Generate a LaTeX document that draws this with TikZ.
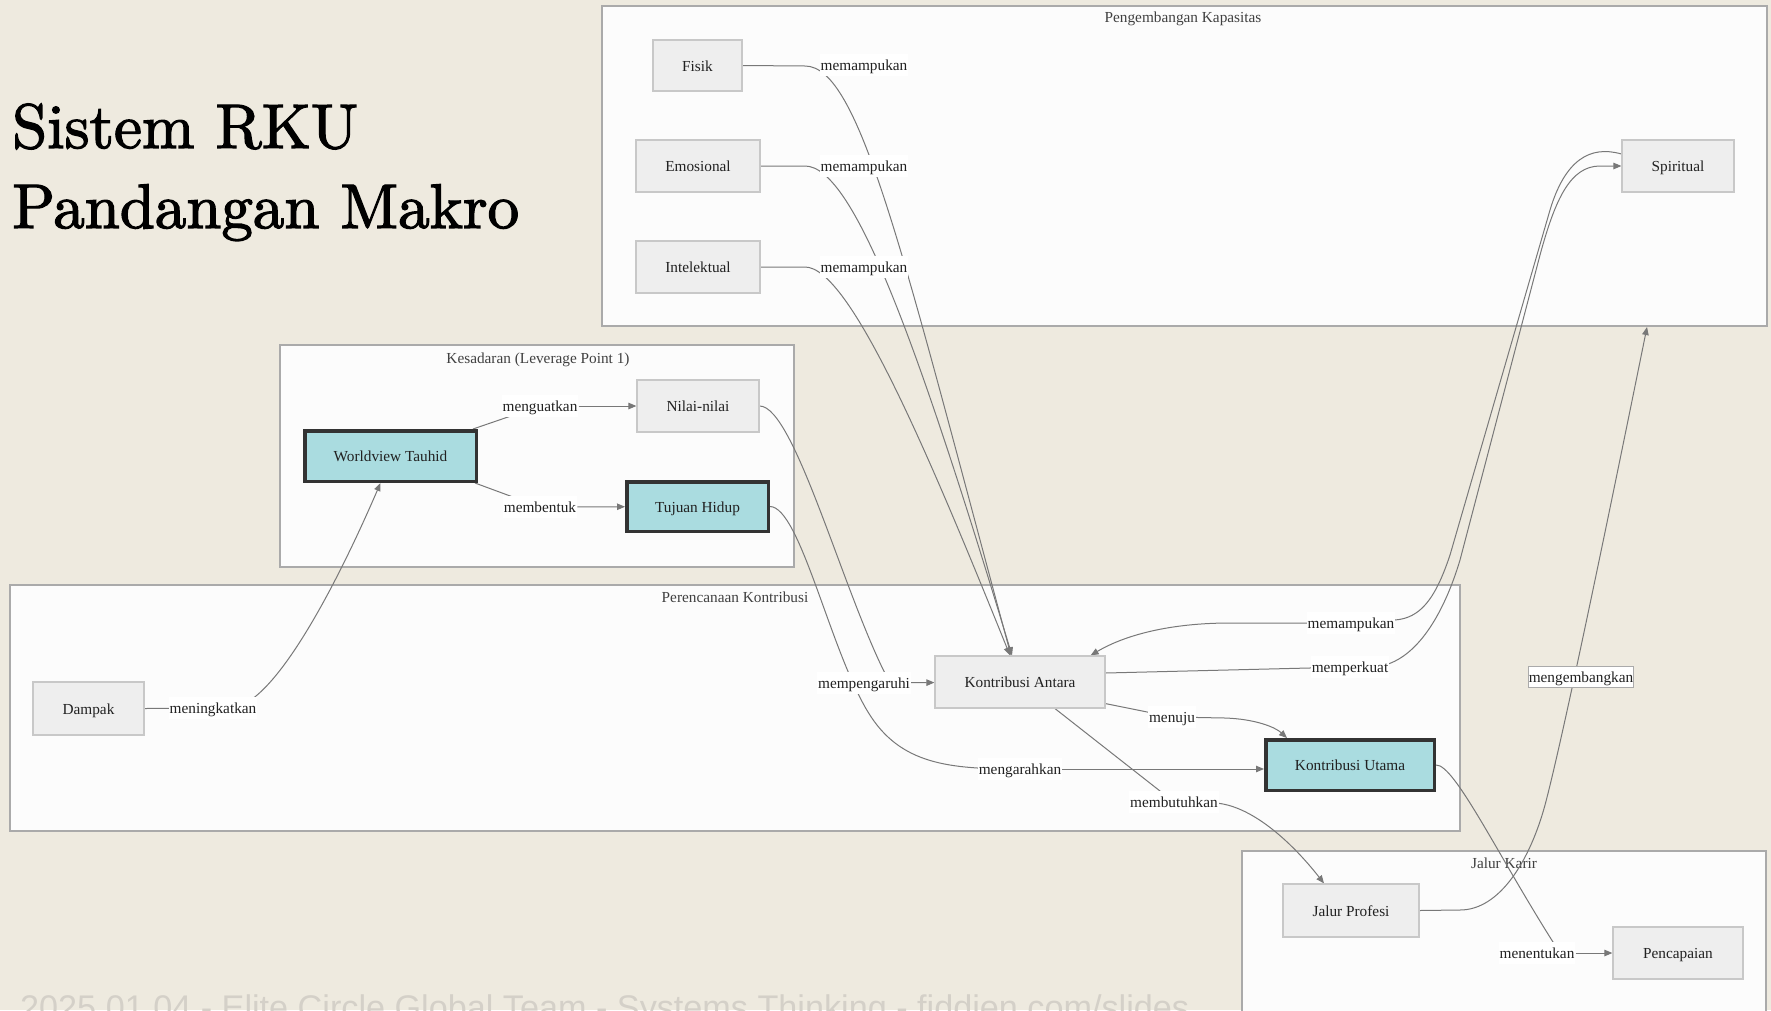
\documentclass[tikz,border=0pt]{standalone}
\usepackage{fontspec}
\newfontfamily\dfont{Liberation Serif}
\newfontfamily\footfont{Liberation Sans}
\newfontfamily\titlefont[FakeBold=2]{lmroman10-regular.otf}
\usetikzlibrary{arrows.meta}
\definecolor{pagebg}{RGB}{238,234,223}
\definecolor{clfill}{RGB}{252,252,252}
\definecolor{clline}{RGB}{170,170,170}
\definecolor{nfill}{RGB}{238,238,238}
\definecolor{nline}{RGB}{200,200,200}
\definecolor{hfill}{RGB}{170,220,224}
\definecolor{hline}{RGB}{51,51,51}
\definecolor{eline}{RGB}{120,120,120}
\definecolor{footc}{RGB}{212,208,200}

\pgfdeclarelayer{page}
\pgfdeclarelayer{clusters}
\pgfdeclarelayer{edges}
\pgfsetlayers{page,clusters,edges,main}

\begin{document}
\begin{tikzpicture}[x=1pt,y=-1pt,
  txt/.style={font=\dfont\fontsize{15.3}{18}\selectfont, text=black!87, text height=13.5pt, text depth=1.8pt},
  plain/.style={txt, draw=nline, line width=1.2pt, fill=nfill, inner sep=0pt},
  key/.style={txt, draw=hline, line width=3.5pt, fill=hfill, inner sep=0pt},
  elabel/.style={txt, fill=white, inner xsep=1pt, inner ysep=3pt},
  cluster/.style={draw=clline, line width=1.5pt, fill=clfill, inner sep=0pt},
  ctitle/.style={txt, text=black!75, inner sep=0pt},
  conn/.style={draw=eline, line width=1pt},
  arr/.style={conn, -{Triangle[length=8pt,width=6.5pt]}},
  heading/.style={anchor=base west, inner sep=0pt, font=\titlefont\fontsize{63}{63}\selectfont},
]
\useasboundingbox (0,0) rectangle (1771,1010);
\begin{pgfonlayer}{page}
\fill[pagebg] (0,0) rectangle (1771,1010);
\end{pgfonlayer}

% title
\node[heading] (title1) at (12,148) {Sistem RKU};
\node[heading] (title2) at (12,228) {Pandangan Makro};

% footer
\node[anchor=base west, inner sep=0pt, text=footc, font=\footfont\fontsize{34.2}{34.2}\selectfont] (footer) at (20,1019) {2025.01.04 - Elite Circle Global Team - Systems Thinking - fiddien.com/slides};

% groups
\begin{pgfonlayer}{clusters}
\node[cluster, minimum width=1165pt, minimum height=320pt] (cpk) at (1184.5,166) {};
\node[ctitle] at (1183,17) {Pengembangan Kapasitas};
\node[cluster, minimum width=514pt, minimum height=222pt] (cks) at (537,456) {};
\node[ctitle] at (538,358) {Kesadaran (Leverage Point 1)};
\node[cluster, minimum width=1450pt, minimum height=246pt] (cpr) at (735,708) {};
\node[ctitle] at (735,597) {Perencanaan Kontribusi};
\node[cluster, minimum width=524pt, minimum height=189pt] (cjk) at (1504,945.5) {};
\node[ctitle] at (1504,863) {Jalur Karir};
\end{pgfonlayer}
\coordinate (pkin) at (1647,327);

% nodes
\node[plain, minimum width=89pt, minimum height=51pt] (fisik) at (697.5,65.5) {Fisik};
\node[plain, minimum width=124pt, minimum height=52pt] (emo) at (698,166) {Emosional};
\node[plain, minimum width=124pt, minimum height=52pt] (intel) at (698,267) {Intelektual};
\node[plain, minimum width=112pt, minimum height=52pt] (spirit) at (1678,166) {Spiritual};
\node[plain, minimum width=122pt, minimum height=52pt] (nilai) at (698,406) {Nilai-nilai};
\node[key, minimum width=171.5pt, minimum height=50.5pt] (wt) at (390.5,456) {Worldview Tauhid};
\node[key, minimum width=141.5pt, minimum height=49.5pt] (tujuan) at (697.5,506.5) {Tujuan Hidup};
\node[plain, minimum width=111pt, minimum height=53pt] (dampak) at (88.5,708.5) {Dampak};
\node[plain, minimum width=170pt, minimum height=52pt] (ka) at (1020,682) {Kontribusi Antara};
\node[key, minimum width=168.5pt, minimum height=50.5pt] (ku) at (1350,765) {Kontribusi Utama};
\node[plain, minimum width=136pt, minimum height=53pt] (jp) at (1351,910.5) {Jalur Profesi};
\node[plain, minimum width=130pt, minimum height=52pt] (pencap) at (1678,953) {Pencapaian};

% edge labels
\node[elabel] (lf) at (864,65) {memampukan};
\node[elabel] (le) at (864,166) {memampukan};
\node[elabel] (li) at (864,267) {memampukan};
\node[elabel] (lnk) at (540,406) {menguatkan};
\node[elabel] (lmb) at (540,507) {membentuk};
\node[elabel] (ldm) at (213,708) {meningkatkan};
\node[elabel] (lmp) at (864,683) {mempengaruhi};
\node[elabel] (lsp1) at (1351,623) {memampukan};
\node[elabel] (lsp2) at (1350,667) {memperkuat};
\node[elabel] (lmj) at (1172,717) {menuju};
\node[elabel] (lma) at (1020,769) {mengarahkan};
\node[elabel] (lmt) at (1174,802) {membutuhkan};
\node[elabel, draw=clline, line width=0.8pt, inner xsep=0.5pt] (lmg) at (1581,677) {mengembangkan};
\node[elabel] (lmn) at (1537,953) {menentukan};

% connectors
\begin{pgfonlayer}{edges}
\draw[arr] (fisik.east) -- (805,66) .. controls (860,66) and (903,255) .. ([xshift=-9pt]ka.north);
\draw[arr] (emo.east) -- (805,166) .. controls (855,166) and (921,355) .. ([xshift=-8pt]ka.north);
\draw[arr] (intel.east) -- (805,267) .. controls (850,267) and (929,455) .. ([xshift=-10pt]ka.north);

\draw[conn] ([xshift=-5pt]wt.north east) -- (lnk.center);
\draw[arr] (lnk) -- (nilai);
\draw[conn] ([xshift=-3pt]wt.south east) -- (lmb.center);
\draw[arr] (lmb) -- (tujuan);

\draw[conn] (nilai.east) .. controls (795,406) and (845,600) .. ([xshift=26pt]lmp.center);
\draw[arr] (lmp) -- (ka);

\draw[conn] (tujuan.east) .. controls (800,507) and (830,650) .. (868,712) .. controls (900,765) and (950,769) .. (lma.center);
\draw[arr] (lma.east) -- (lma.east -| ku.west);

\draw[arr] (dampak.east) -- (230,708) .. controls (270,708) and (330,600) .. ([xshift=-10pt]wt.south);

\draw[arr] ([yshift=5pt]ka.south east) -- (lmj.center) -- (1225,718) .. controls (1255,719) and (1275,727) .. ([xshift=-63pt]ku.north);
\draw[arr] ([xshift=35pt]ka.south) -- (lmt.center) -- (1215,803) .. controls (1250,805) and (1290,840) .. ([xshift=-27pt]jp.north);

\draw[conn] (ku.east) .. controls (1455,764) and (1500,860) .. ([xshift=23pt]lmn.center);
\draw[arr] (lmn) -- (pencap);

\draw[arr] (jp.east) -- (1460,910) .. controls (1500,910) and (1530,860) .. (1545,805) .. controls (1565,730) and (1620,460) .. (pkin);

\draw[arr] ([yshift=12pt]spirit.west) .. controls (1590,145) and (1565,160) .. (1550,210) -- (1450,555) .. controls (1435,600) and (1420,618) .. (1395,620) -- (lsp1.center) -- (1230,623) .. controls (1170,623) and (1125,635) .. ([xshift=-15pt]ka.north east);
\draw[arr] ([yshift=9pt]ka.east) -- (lsp2.center) -- (1385,665) .. controls (1420,655) and (1445,610) .. (1460,560) -- (1540,255) .. controls (1555,200) and (1570,166) .. (1600,166) -- (spirit.west);
\end{pgfonlayer}
\end{tikzpicture}
\end{document}
